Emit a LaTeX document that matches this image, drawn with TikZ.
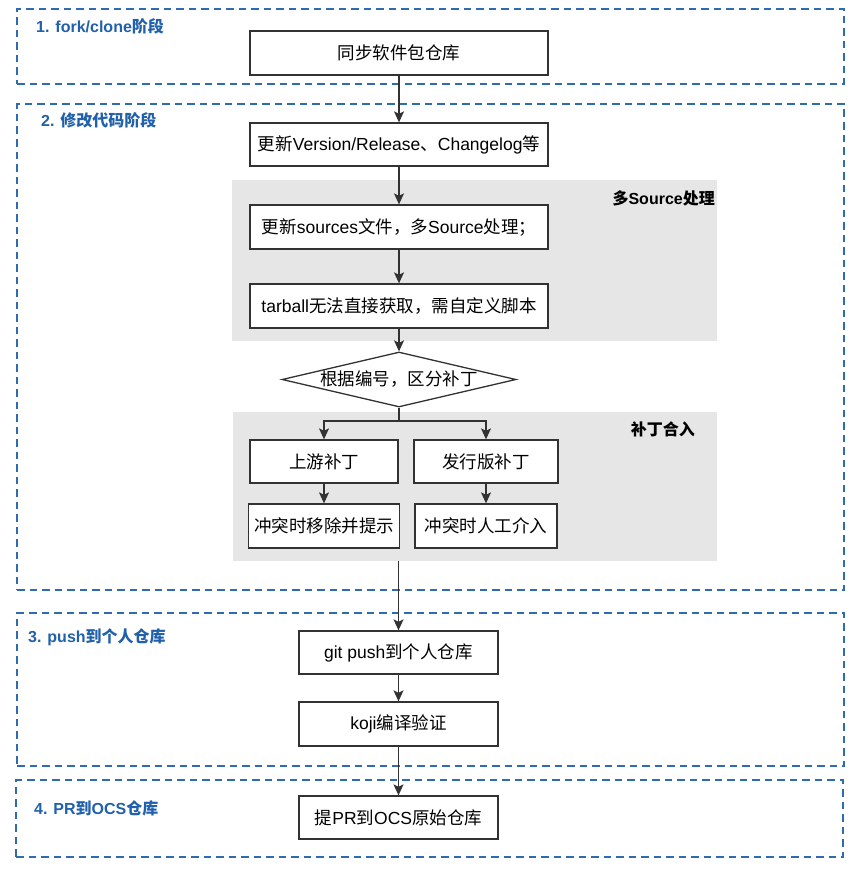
\documentclass[tikz,border=0pt]{standalone}
\usepackage{fontspec}
\setmainfont{Liberation Sans}
\newfontfamily\cjk{Noto Sans CJK SC}
\usetikzlibrary{shapes.geometric,arrows.meta}
\definecolor{secblue}{RGB}{47,107,175}
\definecolor{lblblue}{RGB}{33,96,170}
\definecolor{grayfill}{RGB}{230,230,230}
\definecolor{boxline}{RGB}{50,50,50}
\tikzset{
  sec/.style={draw=secblue, line width=2pt, dash pattern=on 7.5pt off 5pt, anchor=north west, inner sep=0pt},
  grp/.style={fill=grayfill, draw=none, anchor=north west, inner sep=0pt},
  box/.style={draw=boxline, line width=1.3pt, fill=white, inner sep=0pt, font=\fontsize{17.5}{20}\selectfont},
  dia/.style={diamond, draw=boxline, line width=1.3pt, fill=white, inner sep=0pt},
  seclbl/.style={anchor=west, text=lblblue, inner sep=0pt, font=\bfseries\fontsize{16}{18}\selectfont},
  grplbl/.style={anchor=east, text=black, inner sep=0pt, font=\bfseries\fontsize{16}{18}\selectfont},
  dtext/.style={inner sep=0pt, font=\fontsize{17.5}{20}\selectfont},
  arr/.style={draw=boxline, line width=1.3pt, -{Stealth[length=11pt,width=10pt,inset=2.5pt]}},
  ln/.style={draw=boxline, line width=1.3pt}
}
\begin{document}
\begin{tikzpicture}[x=1pt,y=-1pt]
\useasboundingbox (0,0) rectangle (861,872);
\fill[white] (0,0) rectangle (861,872);
% sections
\node[sec, minimum width=827pt, minimum height=75pt] (s1) at (16,8) {};
\node[sec, minimum width=827pt, minimum height=486pt] (s2) at (16,103) {};
\node[sec, minimum width=827pt, minimum height=153pt] (s3) at (16,612) {};
\node[sec, minimum width=827pt, minimum height=77pt] (s4) at (15,779) {};
\node[seclbl] (l1) at (36,26) {1. fork/clone{\cjk 阶段}};
\node[seclbl] (l2) at (41,120) {2. {\cjk 修改代码阶段}};
\node[seclbl] (l3) at (28,637) {3. push{\cjk 到个人仓库}};
\node[seclbl] (l4) at (34,808) {4. PR{\cjk 到}OCS{\cjk 仓库}};
% gray groups
\node[grp, minimum width=485pt, minimum height=161pt] (g1) at (232,180) {};
\node[grp, minimum width=484pt, minimum height=149pt] (g2) at (233,412) {};
\node[grplbl] (gl1) at (715,198) {{\cjk 多}Source{\cjk 处理}};
\node[grplbl] (gl2) at (695,429) {{\cjk 补丁合入}};
% boxes
\node[box, minimum width=298pt, minimum height=44pt] (n1) at (399,53) {{\cjk 同步软件包仓库}};
\node[box, minimum width=298pt, minimum height=43pt] (n2) at (399,144.5) {{\cjk 更新}Version/Release{\cjk 、}Changelog{\cjk 等}};
\node[box, minimum width=298pt, minimum height=44pt] (n3) at (399,227) {{\cjk 更新}sources{\cjk 文件，多}Source{\cjk 处理；}};
\node[box, minimum width=298pt, minimum height=44pt] (n4) at (399,306) {tarball{\cjk 无法直接获取，需自定义脚本}};
\node[dia, minimum width=234pt, minimum height=55pt] (d) at (399,379.5) {};
\node[dtext] (dt) at (d.center) {{\cjk 根据编号，区分补丁}};
\node[box, minimum width=148pt, minimum height=43pt] (up) at (324,461.5) {{\cjk 上游补丁}};
\node[box, minimum width=144pt, minimum height=43pt] (dist) at (486,461.5) {{\cjk 发行版补丁}};
\node[box, minimum width=151pt, minimum height=44pt] (c1) at (324,526) {{\cjk 冲突时移除并提示}};
\node[box, minimum width=142pt, minimum height=44pt] (c2) at (486,526) {{\cjk 冲突时人工介入}};
\node[box, minimum width=199pt, minimum height=43pt] (gp) at (398.5,652.5) {git push{\cjk 到个人仓库}};
\node[box, minimum width=199pt, minimum height=44pt] (koji) at (398.5,724) {koji{\cjk 编译验证}};
\node[box, minimum width=199pt, minimum height=43pt] (pr) at (398.5,817.5) {{\cjk 提}PR{\cjk 到}OCS{\cjk 原始仓库}};
% connectors
\coordinate (br) at (399,421);
\draw[arr] (n1) -- (n2);
\draw[arr] (n2) -- (n3);
\draw[arr] (n3) -- (n4);
\draw[arr] (n4) -- (d);
\draw[ln] (d.south) -- (br);
\draw[arr] (br) -| (up.north);
\draw[arr] (br) -| (dist.north);
\draw[arr] (up) -- (c1);
\draw[arr] (dist) -- (c2);
\draw[arr] (g2.south -| gp.north) -- (gp.north);
\draw[arr] (gp) -- (koji);
\draw[arr] (koji) -- (pr);
\end{tikzpicture}
\end{document}
